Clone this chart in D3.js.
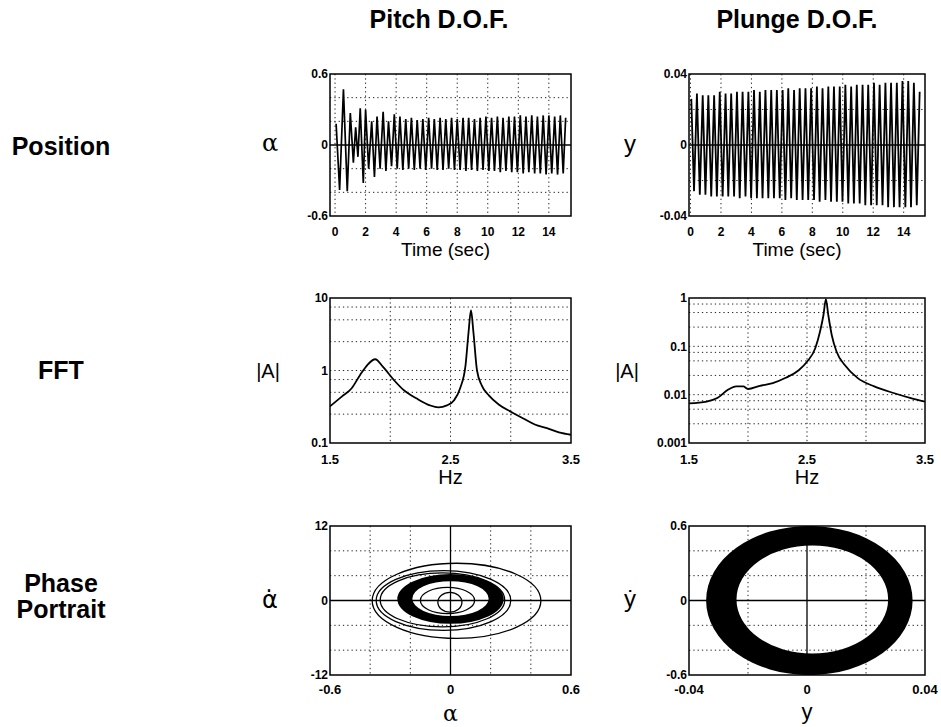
<!DOCTYPE html>
<html><head><meta charset="utf-8">
<script src="https://cdn.jsdelivr.net/npm/d3@7"></script>
<style>body{margin:0;background:#fff}</style>
</head><body>
<svg id="c" width="941" height="727" xmlns="http://www.w3.org/2000/svg"></svg>
<script>
// ---------------- DATA ----------------
const columnTitles = ["Pitch D.O.F.", "Plunge D.O.F."];
const rowLabels = [["Position"], ["FFT"], ["Phase", "Portrait"]];

const timeTicks = [0, 2, 4, 6, 8, 10, 12, 14];

// Pitch position: alternating extrema
const pitchMaxT = [0.07,0.55,1.0,1.35,1.65,2.0,2.4,2.75,3.15,3.5,3.88,4.25,4.63,5.0,5.38,5.75,6.13,6.5,6.88,7.25,7.63,8.0,8.38,8.75,9.13,9.5,9.88,10.25,10.63,11.0,11.38,11.75,12.13,12.5,12.88,13.25,13.63,14.0,14.38,14.75,15.1];
const pitchMax  = [0.18,0.47,0.27,0.15,0.31,0.30,0.20,0.24,0.28,0.20,0.26,0.24,0.22,0.23,0.21,0.22,0.23,0.22,0.23,0.22,0.23,0.22,0.23,0.23,0.22,0.23,0.24,0.23,0.24,0.23,0.24,0.24,0.25,0.24,0.25,0.24,0.25,0.25,0.24,0.25,0.23];
const pitchMinT = [0.3,0.8,1.2,1.5,1.85,2.2,2.58,2.95,3.33,3.7,4.07,4.44,4.82,5.19,5.57,5.94,6.32,6.69,7.07,7.44,7.82,8.19,8.57,8.94,9.32,9.69,10.07,10.44,10.82,11.19,11.57,11.94,12.32,12.69,13.07,13.44,13.82,14.19,14.57,14.94];
const pitchMin  = [-0.38,-0.39,-0.15,-0.10,-0.32,-0.20,-0.27,-0.20,-0.22,-0.18,-0.20,-0.21,-0.20,-0.21,-0.20,-0.21,-0.20,-0.21,-0.21,-0.20,-0.21,-0.21,-0.22,-0.21,-0.22,-0.21,-0.22,-0.22,-0.23,-0.22,-0.23,-0.23,-0.24,-0.23,-0.24,-0.24,-0.25,-0.24,-0.25,-0.24];

// Plunge position
const plungeMaxT = [0.05,0.42,0.8,1.17,1.55,1.92,2.3,2.67,3.05,3.42,3.8,4.17,4.55,4.92,5.3,5.67,6.05,6.42,6.8,7.17,7.55,7.92,8.3,8.67,9.05,9.42,9.8,10.17,10.55,10.92,11.3,11.67,12.05,12.42,12.8,13.17,13.55,13.92,14.3,14.67,15.05];
const plungeMax  = [0.026,0.029,0.028,0.028,0.028,0.030,0.029,0.029,0.030,0.030,0.030,0.031,0.030,0.031,0.031,0.031,0.031,0.032,0.031,0.032,0.032,0.032,0.033,0.032,0.033,0.033,0.033,0.034,0.033,0.034,0.034,0.034,0.035,0.034,0.035,0.035,0.035,0.036,0.036,0.035,0.030];
const plungeMinT = [0.23,0.61,0.98,1.36,1.73,2.11,2.48,2.86,3.23,3.61,3.98,4.36,4.73,5.11,5.48,5.86,6.23,6.61,6.98,7.36,7.73,8.11,8.48,8.86,9.23,9.61,9.98,10.36,10.73,11.11,11.48,11.86,12.23,12.61,12.98,13.36,13.73,14.11,14.48,14.86];
const plungeMin  = [-0.026,-0.028,-0.028,-0.029,-0.029,-0.029,-0.029,-0.029,-0.030,-0.029,-0.030,-0.030,-0.030,-0.030,-0.030,-0.030,-0.031,-0.030,-0.031,-0.031,-0.031,-0.031,-0.032,-0.031,-0.032,-0.032,-0.032,-0.033,-0.033,-0.033,-0.034,-0.034,-0.034,-0.034,-0.035,-0.035,-0.035,-0.035,-0.035,-0.034];

// FFT spectra
const fftPitchHz  = [1.5,1.6,1.68,1.75,1.81,1.875,1.94,2.03,2.11,2.22,2.33,2.40,2.47,2.53,2.58,2.625,2.65,2.67,2.69,2.72,2.76,2.82,2.9,3.0,3.1,3.2,3.3,3.4,3.5];
const fftPitchAmp = [0.32,0.44,0.57,0.87,1.19,1.43,1.12,0.74,0.54,0.41,0.33,0.31,0.33,0.39,0.57,1.19,3.4,6.8,3.4,1.0,0.62,0.45,0.34,0.27,0.22,0.18,0.16,0.14,0.13];
const fftPlungeHz  = [1.5,1.65,1.74,1.83,1.9,1.96,2.0,2.1,2.21,2.32,2.43,2.5,2.57,2.61,2.64,2.66,2.68,2.71,2.75,2.82,2.93,3.07,3.24,3.38,3.5];
const fftPlungeAmp = [0.0066,0.0072,0.0085,0.0126,0.0148,0.0148,0.0131,0.0152,0.0174,0.0224,0.032,0.048,0.091,0.2,0.45,0.95,0.45,0.17,0.078,0.041,0.022,0.0148,0.0107,0.0085,0.0072];

const fftPitchTicks  = [0.1, 1, 10];
const fftPlungeTicks = [0.001, 0.01, 0.1, 1];
const fftPitchGrid   = [0.25,0.5,0.75,1,2.5,5,7.5];
const fftPlungeGrid  = [0.0025,0.005,0.0075,0.01,0.025,0.05,0.075,0.1,0.25,0.5,0.75];
const hzTicks = [1.5, 2.5, 3.5];
const hzGrid = [2.0, 2.5, 3.0];

// Phase portraits: ellipses (centre, radii in data units)
const pitchOrbits = [
  {cx: 0.03,  cy:-0.05, rx:0.42,  ry:6.05},
  {cx:-0.035, cy: 0.0,  rx:0.335, ry:4.8},
  {cx:-0.04,  cy: 0.1,  rx:0.31,  ry:4.35},
  {cx:-0.015, cy: 0.0,  rx:0.135, ry:2.1},
  {cx:-0.003, cy:-0.28, rx:0.06,  ry:1.6}
];
const pitchBand = {outer:{cx:0.0, cy:0.25, rx:0.265, ry:4.0}, inner:{cx:0.0, cy:0.3, rx:0.19, ry:2.8}};
const plungeBand = {outer:{cx:0.0008, cy:0.0, rx:0.035, ry:0.6}, inner:{cx:0.0018, cy:0.008, rx:0.0257, ry:0.435}};

// ---------------- LAYOUT ----------------
const FONT = "'Liberation Sans', Arial, Helvetica, sans-serif";
const SERIF = "'DejaVu Serif', 'Liberation Serif', serif";
const cols = [[330, 571], [689, 925]];
const rows = [[74, 216], [298, 443], [526, 675]];

const svg = d3.select('#c');
const defs = svg.append('defs');
let clipId = 0;

function panel(c, r) {
  const [x0, x1] = cols[c], [y0, y1] = rows[r];
  const id = 'clip' + (clipId++);
  defs.append('clipPath').attr('id', id).append('rect')
    .attr('x', x0).attr('y', y0).attr('width', x1 - x0).attr('height', y1 - y0);
  const g = svg.append('g');
  const inner = g.append('g').attr('clip-path', `url(#${id})`);
  return {x0, x1, y0, y1, g, inner};
}
function dotted(p, xs, ys, xScale, yScale) {
  p.inner.selectAll(null).data(xs).enter().append('line')
    .attr('x1', d => xScale(d)).attr('x2', d => xScale(d))
    .attr('y1', p.y0).attr('y2', p.y1)
    .attr('stroke', '#222').attr('stroke-width', 1).attr('stroke-dasharray', '1.3,3');
  p.inner.selectAll(null).data(ys).enter().append('line')
    .attr('y1', d => yScale(d)).attr('y2', d => yScale(d))
    .attr('x1', p.x0).attr('x2', p.x1)
    .attr('stroke', '#222').attr('stroke-width', 1).attr('stroke-dasharray', '1.3,3');
}
function box(p) {
  p.g.append('rect').attr('x', p.x0).attr('y', p.y0)
    .attr('width', p.x1 - p.x0).attr('height', p.y1 - p.y0)
    .attr('fill', 'none').attr('stroke', '#000').attr('stroke-width', 1.5);
}
function yLabels(p, vals, yScale, fmt, size) {
  p.g.selectAll(null).data(vals).enter().append('text')
    .attr('x', p.x0 - 2).attr('y', d => yScale(d) + size * 0.36)
    .attr('text-anchor', 'end').attr('font-family', FONT).attr('font-weight', 'bold')
    .attr('font-size', size).text(fmt);
}
function xLabels(p, vals, xScale, fmt, size, yc) {
  p.g.selectAll(null).data(vals).enter().append('text')
    .attr('x', d => xScale(d)).attr('y', yc + size * 0.36)
    .attr('text-anchor', 'middle').attr('font-family', FONT).attr('font-weight', 'bold')
    .attr('font-size', size).text(fmt);
}
function txt(x, y, s, size, opts = {}) {
  return svg.append('text').attr('x', x).attr('y', y + size * 0.35)
    .attr('text-anchor', opts.anchor || 'middle')
    .attr('font-family', opts.family || FONT)
    .attr('font-weight', opts.weight || 'normal')
    .attr('font-size', size).text(s);
}
function zeroLines(p, xScale, yScale, vertical) {
  p.inner.append('line').attr('x1', p.x0).attr('x2', p.x1)
    .attr('y1', yScale(0)).attr('y2', yScale(0)).attr('stroke', '#000').attr('stroke-width', 1.3);
  if (vertical) p.inner.append('line').attr('y1', p.y0).attr('y2', p.y1)
    .attr('x1', xScale(0)).attr('x2', xScale(0)).attr('stroke', '#000').attr('stroke-width', 1.3);
}

// ---------------- TITLES ----------------
txt(439, 19, columnTitles[0], 25, {weight: 'bold'});
txt(797, 19, columnTitles[1], 25, {weight: 'bold'});
txt(61, 146, rowLabels[0][0], 25, {weight: 'bold'});
txt(61, 370, rowLabels[1][0], 25, {weight: 'bold'});
txt(61, 583, rowLabels[2][0], 25, {weight: 'bold'});
txt(61, 609, rowLabels[2][1], 25, {weight: 'bold'});

// ---------------- ROW 1: POSITION ----------------
function extremaLine(maxT, maxV, minT, minV) {
  const pts = maxT.map((t, i) => [t, maxV[i]]).concat(minT.map((t, i) => [t, minV[i]]));
  pts.sort((a, b) => a[0] - b[0]);
  return pts;
}
{
  const p = panel(0, 0);
  const x = d3.scaleLinear([-0.33, 15.45], [p.x0, p.x1]);
  const y = d3.scaleLinear([-0.6, 0.6], [p.y1, p.y0]);
  dotted(p, timeTicks, [-0.4, -0.2, 0.2, 0.4], x, y);
  const pts = extremaLine(pitchMaxT, pitchMax, pitchMinT, pitchMin);
  p.inner.append('path').datum(pts)
    .attr('d', d3.line().x(d => x(d[0])).y(d => y(d[1])))
    .attr('fill', 'none').attr('stroke', '#000').attr('stroke-width', 1.7);
  zeroLines(p, x, y, false);
  box(p);
  yLabels(p, [0.6, 0, -0.6], y, d => d === 0 ? '0' : String(d), 12);
  xLabels(p, timeTicks, x, d => String(d), 12, 232);
  txt((p.x0 + p.x1) / 2 - 5, 249, 'Time (sec)', 19);
  txt(270, 143, 'α', 24, {family: SERIF});
}
{
  const p = panel(1, 0);
  const x = d3.scaleLinear([-0.1, 15.4], [p.x0, p.x1]);
  const y = d3.scaleLinear([-0.04, 0.04], [p.y1, p.y0]);
  dotted(p, timeTicks, [-0.02, 0.02], x, y);
  const pts = extremaLine(plungeMaxT, plungeMax, plungeMinT, plungeMin);
  p.inner.append('path').datum(pts)
    .attr('d', d3.line().x(d => x(d[0])).y(d => y(d[1])))
    .attr('fill', 'none').attr('stroke', '#000').attr('stroke-width', 1.8);
  zeroLines(p, x, y, false);
  box(p);
  yLabels(p, [0.04, 0, -0.04], y, d => d === 0 ? '0' : String(d), 12);
  xLabels(p, timeTicks, x, d => String(d), 12, 232);
  txt((p.x0 + p.x1) / 2 - 10, 249, 'Time (sec)', 19);
  txt(630, 144, 'y', 24);
}

// ---------------- ROW 2: FFT ----------------
function fftPanel(c, hz, amp, dom, ticks, grid, fmt) {
  const p = panel(c, 1);
  const x = d3.scaleLinear([1.5, 3.5], [p.x0, p.x1]);
  const y = d3.scaleLog(dom, [p.y1, p.y0]);
  dotted(p, hzGrid, grid, x, y);
  p.inner.append('path').datum(hz.map((h, i) => [h, amp[i]]))
    .attr('d', d3.line().x(d => x(d[0])).y(d => y(d[1])).curve(d3.curveMonotoneX))
    .attr('fill', 'none').attr('stroke', '#000').attr('stroke-width', 1.8);
  box(p);
  yLabels(p, ticks, y, fmt, 12);
  xLabels(p, hzTicks, x, d => d.toFixed(1), 13, 459);
  txt((p.x0 + p.x1) / 2, 477, 'Hz', 20);
  txt(p.x0 - 62, 371, '|A|', 20);
}
fftPanel(0, fftPitchHz, fftPitchAmp, [0.1, 10], fftPitchTicks, fftPitchGrid, d => String(d));
fftPanel(1, fftPlungeHz, fftPlungeAmp, [0.001, 1], fftPlungeTicks, fftPlungeGrid, d => String(d));

// ---------------- ROW 3: PHASE ----------------
function ellipsePath(x, y, e) {
  const cx = x(e.cx), cy = y(e.cy);
  const rx = x(e.cx + e.rx) - cx, ry = cy - y(e.cy + e.ry);
  return `M${cx - rx},${cy}A${rx},${ry} 0 1 0 ${cx + rx},${cy}A${rx},${ry} 0 1 0 ${cx - rx},${cy}Z`;
}
function bottomLabel(x, baseline, s, size, family) {
  return svg.append('text').attr('x', x).attr('y', baseline)
    .attr('text-anchor', 'middle').attr('font-family', family)
    .attr('font-size', size).text(s);
}
{
  const p = panel(0, 2);
  const x = d3.scaleLinear([-0.6, 0.6], [p.x0, p.x1]);
  const y = d3.scaleLinear([-12, 12], [p.y1, p.y0]);
  dotted(p, [-0.4, -0.2, 0.2, 0.4], [-8, -4, 4, 8], x, y);
  zeroLines(p, x, y, true);
  p.inner.append('path')
    .attr('d', ellipsePath(x, y, pitchBand.outer) + ellipsePath(x, y, pitchBand.inner))
    .attr('fill', '#000').attr('fill-rule', 'evenodd');
  p.inner.selectAll(null).data(pitchOrbits).enter().append('path')
    .attr('d', d => ellipsePath(x, y, d))
    .attr('fill', 'none').attr('stroke', '#000').attr('stroke-width', 1.3);
  box(p);
  yLabels(p, [12, 0, -12], y, d => String(d), 12);
  xLabels(p, [-0.6, 0, 0.6], x, d => String(d), 13, 689);
  bottomLabel((p.x0 + p.x1) / 2, 721, 'α', 22, SERIF);
  bottomLabel(270, 608, 'α\u0307', 24, "'DejaVu Sans', sans-serif");
}
{
  const p = panel(1, 2);
  const x = d3.scaleLinear([-0.04, 0.04], [p.x0, p.x1]);
  const y = d3.scaleLinear([-0.6, 0.6], [p.y1, p.y0]);
  dotted(p, [-0.02, 0.02], [-0.4, -0.2, 0.2, 0.4], x, y);
  zeroLines(p, x, y, true);
  p.inner.append('path')
    .attr('d', ellipsePath(x, y, plungeBand.outer) + ellipsePath(x, y, plungeBand.inner))
    .attr('fill', '#000').attr('fill-rule', 'evenodd');
  box(p);
  yLabels(p, [0.6, 0, -0.6], y, d => String(d), 12);
  xLabels(p, [-0.04, 0, 0.04], x, d => String(d), 13, 689);
  bottomLabel((p.x0 + p.x1) / 2, 719, 'y', 22, FONT);
  txt(630, 599, 'ẏ', 24);
}
</script>
</body></html>
